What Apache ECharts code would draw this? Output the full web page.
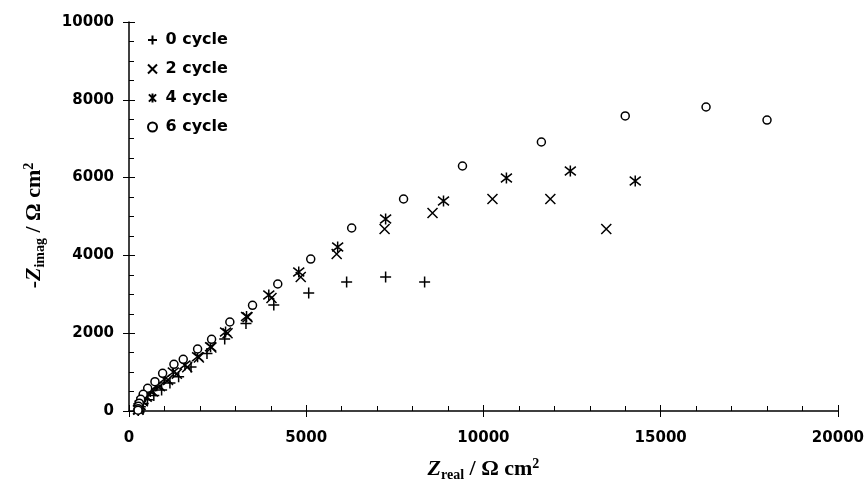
<!DOCTYPE html>
<html>
<head>
<meta charset="utf-8">
<script src="https://cdn.jsdelivr.net/npm/echarts@6/dist/echarts.min.js"></script>
<style>
  html, body { margin: 0; padding: 0; background: #fff; }
  #chart { width: 867px; height: 491px; }
</style>
</head>
<body>
<div id="chart"></div>
<script>
// 图例名称
const seriesNames = ['0 cycle', '2 cycle', '4 cycle', '6 cycle'];

// 数据 [Zreal, -Zimag]
const cycle0 = [
    [8340, 3316], [7240, 3445], [6140, 3316], [5070, 3033], [4085, 2725],
    [3300, 2250], [2700, 1850], [2200, 1480], [1750, 1130], [1400, 880],
    [1155, 720], [920, 540], [700, 400], [520, 290], [400, 190],
    [320, 110], [280, 50], [260, 15]
];
const cycle2 = [
    [13465, 4679], [11887, 5450], [10254, 5450], [8563, 5090], [7211, 4679],
    [5859, 4036], [4845, 3445], [4020, 2905], [3344, 2409], [2780, 1997],
    [2324, 1632], [1972, 1375], [1642, 1123], [1350, 960], [1100, 800],
    [870, 640], [670, 500], [500, 370], [390, 250], [320, 150],
    [285, 80], [265, 30]
];
const cycle4 = [
    [14282, 5913], [12451, 6170], [10648, 5990], [8873, 5398], [7240, 4936],
    [5887, 4216], [4789, 3573], [3944, 2982], [3316, 2428], [2724, 2031],
    [2301, 1653], [1935, 1396], [1577, 1183], [1250, 1000], [1000, 820],
    [780, 650], [600, 500], [460, 370], [370, 250], [310, 150],
    [280, 80], [265, 30]
];
const cycle6 = [
    [18000, 7480], [16280, 7815], [14000, 7584], [11634, 6915], [9408, 6298],
    [7746, 5450], [6282, 4704], [5127, 3907], [4197, 3265], [3485, 2717],
    [2845, 2288], [2330, 1843], [1935, 1594], [1530, 1329], [1268, 1200],
    [949, 969], [732, 753], [527, 584], [400, 430], [330, 300],
    [290, 200], [270, 120], [260, 60], [255, 20]
];

// 坐标轴范围
const xRange = [0, 20000, 5000];
const yRange = [0, 10000, 2000];

// 符号
const symPlus = 'path://M0,5L10,5M5,0L5,10';
const symCross = 'path://M0,0L10,10M10,0L0,10';
const symStar = 'path://M1,1L9,9M9,1L1,9M5,0L5,10';

const chart = echarts.init(document.getElementById('chart'));

const tickFont = {
    color: '#000',
    fontFamily: 'DejaVu Sans',
    fontWeight: 'bold',
    fontSize: 15,
    formatter: function (v) { return String(v); }
};

const serif = 'Liberation Serif';
const titleRich = {
    z: { fontFamily: serif, fontWeight: 'bold', fontStyle: 'italic', fontSize: 22, color: '#000', lineHeight: 25, verticalAlign: 'middle' },
    n: { fontFamily: serif, fontWeight: 'bold', fontSize: 22, color: '#000', lineHeight: 25, verticalAlign: 'middle' },
    sub: { fontFamily: serif, fontWeight: 'bold', fontSize: 14, color: '#000', lineHeight: 25, verticalAlign: 'bottom' },
    sup: { fontFamily: serif, fontWeight: 'bold', fontSize: 14, color: '#000', lineHeight: 25, verticalAlign: 'top' }
};

function mainAxis(range, minorSplit, name, nameGap, extra) {
    return Object.assign({
        type: 'value',
        min: range[0],
        max: range[1],
        interval: range[2],
        name: name,
        nameLocation: 'middle',
        nameGap: nameGap,
        nameTextStyle: { rich: titleRich },
        axisLine: { show: true, lineStyle: { color: '#000', width: 1.5 } },
        axisTick: { show: true, inside: true, length: 6, lineStyle: { color: '#000', width: 1 } },
        minorTick: { show: true, splitNumber: minorSplit, length: 5, lineStyle: { color: '#000', width: 1 } },
        splitLine: { show: false },
        axisLabel: Object.assign({}, tickFont)
    }, extra);
}

// 外侧主刻度 (与主轴重合)
function tickAxis(range, extra) {
    return Object.assign({
        type: 'value',
        min: range[0],
        max: range[1],
        interval: range[2],
        axisLine: { show: false },
        axisTick: { show: true, inside: false, length: 6, lineStyle: { color: '#000', width: 1 } },
        axisLabel: { show: false },
        splitLine: { show: false }
    }, extra);
}

function scatter(name, data, symbol, size) {
    return {
        name: name,
        type: 'scatter',
        data: data,
        symbol: symbol,
        symbolSize: size,
        itemStyle: { color: 'rgba(0,0,0,0)', borderColor: '#000', borderWidth: 1.5, opacity: 1 },
        emphasis: { disabled: true }
    };
}

const option = {
    animation: false,
    backgroundColor: '#fff',
    grid: { left: 129, right: 29, top: 22, bottom: 80, containLabel: false },
    legend: {
        orient: 'vertical',
        left: 142,
        top: 27,
        itemWidth: 10,
        itemHeight: 9,
        itemGap: 13,
        symbolKeepAspect: true,
        textStyle: { color: '#000', fontFamily: 'DejaVu Sans', fontWeight: 'bold', fontSize: 16, padding: [0, 0, 0, 3] },
        data: seriesNames
    },
    xAxis: [
        mainAxis(xRange, 5, '{z|Z}{sub|real}{n| / Ω cm}{sup|2}', 46, {
            position: 'bottom',
            axisLabel: Object.assign({ margin: 20 }, tickFont)
        }),
        tickAxis(xRange, { position: 'bottom' })
    ],
    yAxis: [
        mainAxis(yRange, 4, '{n|-}{z|Z}{sub|imag}{n| / Ω cm}{sup|2}', 82, {
            position: 'left',
            nameRotate: 90,
            nameTextStyle: { rich: titleRich, padding: [0, 18, 0, 0] },
            axisLabel: Object.assign({ margin: 15 }, tickFont)
        }),
        tickAxis(yRange, { position: 'left' })
    ],
    series: [
        scatter(seriesNames[0], cycle0, symPlus, 11),
        scatter(seriesNames[1], cycle2, symCross, 10),
        scatter(seriesNames[2], cycle4, symStar, 11),
        Object.assign(scatter(seriesNames[3], cycle6, 'circle', 8), {
            itemStyle: { color: '#fff', borderColor: '#000', borderWidth: 1.5, opacity: 1 }
        })
    ]
};

chart.setOption(option);
</script>
</body>
</html>
